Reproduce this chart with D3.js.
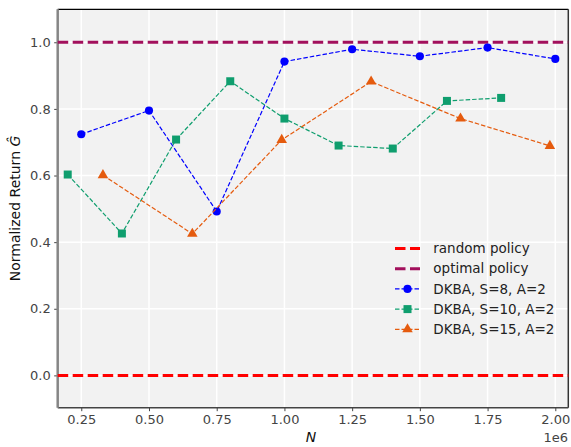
<!DOCTYPE html>
<html>
<head>
<meta charset="utf-8">
<script src="https://cdn.jsdelivr.net/npm/d3@7"></script>
<style>
  body { margin: 0; background: #fff; }
  svg { display: block; font-family: "DejaVu Sans", sans-serif; }
</style>
</head>
<body>
<svg id="chart"></svg>
<script>
// Sample sizes N for each run
const nS8 = [250000, 500000, 750000, 1000000, 1250000, 1500000, 1750000, 2000000];
const nS10 = [200000, 400000, 600000, 800000, 1000000, 1200000, 1400000, 1600000, 1800000];
const nS15 = [330000, 660000, 990000, 1320000, 1650000, 1980000];

// Normalized return
const retS8 = [0.724, 0.795, 0.492, 0.942, 0.979, 0.958, 0.984, 0.950];
const retS10 = [0.603, 0.426, 0.708, 0.883, 0.771, 0.690, 0.681, 0.824, 0.833];
const retS15 = [0.601, 0.425, 0.707, 0.882, 0.771, 0.689];

const xTicks = [250000, 500000, 750000, 1000000, 1250000, 1500000, 1750000, 2000000];
const yTicks = [0.0, 0.2, 0.4, 0.6, 0.8, 1.0];

const randomLevel = 0.0;
const optimalLevel = 1.0;

const legendLabels = ["random policy", "optimal policy", "DKBA, S=8, A=2", "DKBA, S=10, A=2", "DKBA, S=15, A=2"];

const W = 571, H = 447;
const margin = { top: 9.3, right: 2.7, bottom: 39.3, left: 57.7 };
const width = W - margin.left - margin.right;
const height = H - margin.top - margin.bottom;

const svg = d3.select("#chart").attr("width", W).attr("height", H);
const g = svg.append("g").attr("transform", `translate(${margin.left},${margin.top})`);

const x = d3.scaleLinear().domain([163000, 2048000]).range([0, width]);
const y = d3.scaleLinear().domain([-0.097, 1.099]).range([height, 0]);

// background
g.append("rect").attr("width", width).attr("height", height).attr("fill", "#f2f2f2");

// grid
g.selectAll(".vgrid").data(xTicks).join("line")
  .attr("x1", d => x(d)).attr("x2", d => x(d))
  .attr("y1", 0).attr("y2", height)
  .attr("stroke", "#fff").attr("stroke-width", 1.5);
g.selectAll(".hgrid").data(yTicks).join("line")
  .attr("x1", 0).attr("x2", width)
  .attr("y1", d => y(d)).attr("y2", d => y(d))
  .attr("stroke", "#fff").attr("stroke-width", 1.5);

// axes
const xAxis = g.append("g")
  .attr("transform", `translate(0,${height})`)
  .call(d3.axisBottom(x).tickValues(xTicks).tickSizeInner(3.5).tickSizeOuter(0).tickPadding(3.5)
    .tickFormat(d => (d / 1e6).toFixed(2)));
const yAxis = g.append("g")
  .call(d3.axisLeft(y).tickValues(yTicks).tickSizeInner(3.5).tickSizeOuter(0).tickPadding(3.5)
    .tickFormat(d => d.toFixed(1)));
[xAxis, yAxis].forEach(a => {
  a.select(".domain").remove();
  a.selectAll(".tick line").attr("stroke", "#444").attr("stroke-width", 1);
  a.selectAll(".tick text").attr("fill", "#444").style("font-size", "13px")
    .style("font-family", "DejaVu Sans");
});

// spines
g.append("line").attr("x1", 0).attr("x2", width).attr("y1", 0).attr("y2", 0)
  .attr("stroke", "#000").attr("stroke-width", 1.2);
g.append("line").attr("x1", width).attr("x2", width).attr("y1", 0).attr("y2", height)
  .attr("stroke", "#333").attr("stroke-width", 1.5);
g.append("line").attr("x1", 0).attr("x2", width).attr("y1", height).attr("y2", height)
  .attr("stroke", "#444").attr("stroke-width", 1.5);
g.append("line").attr("x1", 0).attr("x2", 0).attr("y1", 0).attr("y2", height)
  .attr("stroke", "#858585").attr("stroke-width", 2.5);

// policy levels
const policyDash = "10.5,4.5";
g.append("line").attr("x1", 0).attr("x2", width)
  .attr("y1", y(randomLevel)).attr("y2", y(randomLevel))
  .attr("stroke", "#ff0000").attr("stroke-width", 3).attr("stroke-dasharray", policyDash);
g.append("line").attr("x1", 0).attr("x2", width)
  .attr("y1", y(optimalLevel)).attr("y2", y(optimalLevel))
  .attr("stroke", "#a2105c").attr("stroke-width", 3).attr("stroke-dasharray", policyDash);

const series = [
  { xs: nS8, ys: retS8, color: "#0000ff", marker: d3.symbolCircle, size: 52 },
  { xs: nS10, ys: retS10, color: "#0f9e6e", marker: d3.symbolSquare, size: 64 },
  { xs: nS15, ys: retS15, color: "#e55b0e", marker: d3.symbolTriangle, size: 48 },
];

const line = d3.line().x(d => x(d[0])).y(d => y(d[1]));
const seriesDash = "4.5,2";

series.forEach(s => {
  const pts = s.xs.map((n, i) => [n, s.ys[i]]);
  g.append("path").datum(pts)
    .attr("fill", "none").attr("stroke", s.color).attr("stroke-width", 1.2)
    .attr("stroke-dasharray", seriesDash).attr("d", line);
  g.selectAll(null).data(pts).join("path")
    .attr("transform", d => `translate(${x(d[0])},${y(d[1])})`)
    .attr("d", d3.symbol().type(s.marker).size(s.size))
    .attr("fill", s.color);
});

// legend
const legend = svg.append("g").attr("transform", "translate(395,248.5)");
const rowH = 20.2;
const handles = [
  { color: "#ff0000", width: 3, dash: policyDash },
  { color: "#a2105c", width: 3, dash: policyDash },
  { color: "#0000ff", width: 1.2, dash: seriesDash, marker: d3.symbolCircle, size: 52 },
  { color: "#0f9e6e", width: 1.2, dash: seriesDash, marker: d3.symbolSquare, size: 64 },
  { color: "#e55b0e", width: 1.2, dash: seriesDash, marker: d3.symbolTriangle, size: 48 },
];
legendLabels.forEach((lab, i) => {
  const h = handles[i];
  const row = legend.append("g").attr("transform", `translate(0,${i * rowH})`);
  row.append("line").attr("x1", 0).attr("x2", 25).attr("y1", 0).attr("y2", 0)
    .attr("stroke", h.color).attr("stroke-width", h.width).attr("stroke-dasharray", h.dash);
  if (h.marker) {
    row.append("path").attr("transform", "translate(12.5,0)")
      .attr("d", d3.symbol().type(h.marker).size(h.size)).attr("fill", h.color);
  }
  row.append("text").attr("x", 38.3).attr("y", 0).attr("dy", "0.35em")
    .attr("fill", "#222").style("font-size", "13.5px").text(lab);
});

// axis labels
svg.append("text")
  .attr("x", margin.left + x(1100000) - x(1100000) + width / 2 - 2)
  .attr("y", 442).attr("text-anchor", "middle")
  .style("font-size", "14px").style("font-style", "italic").attr("fill", "#111").text("N");
svg.append("text")
  .attr("x", 568).attr("y", 442).attr("text-anchor", "end")
  .style("font-size", "13px").attr("fill", "#444").text("1e6");

const yl = svg.append("text")
  .attr("transform", `translate(20,${margin.top + height / 2}) rotate(-90)`)
  .attr("text-anchor", "middle").style("font-size", "14px").attr("fill", "#111");
yl.append("tspan").text("Normalized Return ");
yl.append("tspan").style("font-style", "italic").text("Ĝ");
</script>
</body>
</html>
